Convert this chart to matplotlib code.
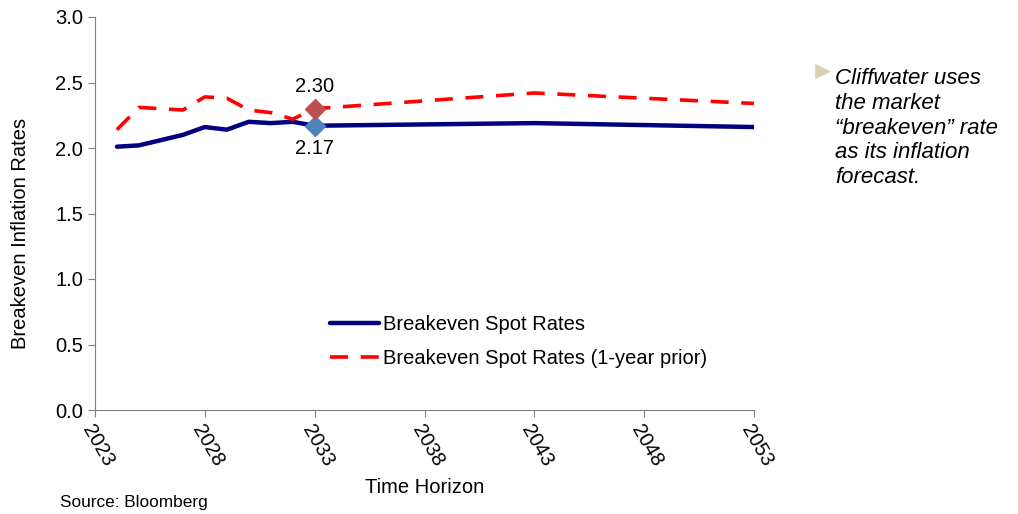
import matplotlib.pyplot as plt

plt.rcParams['font.family'] = ['Liberation Sans', 'DejaVu Sans']

years = [2024, 2025, 2026, 2027, 2028, 2029, 2030, 2031, 2032, 2033, 2043, 2053]
spot = [2.01, 2.02, 2.06, 2.10, 2.16, 2.14, 2.20, 2.19, 2.20, 2.17, 2.19, 2.16]
prior = [2.14, 2.31, 2.30, 2.29, 2.39, 2.38, 2.29, 2.27, 2.22, 2.30, 2.42, 2.34]
xticks = [2023, 2028, 2033, 2038, 2043, 2048, 2053]
yticks = [0.0, 0.5, 1.0, 1.5, 2.0, 2.5, 3.0]

fig = plt.figure(figsize=(10.18, 5.14), dpi=100)
ax = fig.add_axes([95 / 1018, 1 - 410 / 514, (754 - 95) / 1018, (410 - 17) / 514])

ax.plot(years, spot, color='#000080', lw=3.2, label='Breakeven Spot Rates', solid_capstyle='round')
ax.plot(years, prior, color='#ff0000', lw=2.6, dashes=(5, 3.5), label='Breakeven Spot Rates (1-year prior)')

ax.plot(2033, spot[9], marker='D', color='#4f81bd', ms=10, zorder=5)
ax.plot(2033, prior[9], marker='D', color='#c0504d', ms=10, zorder=5)
ax.text(2033, spot[9] - 0.1, '%.2f' % spot[9], ha='center', va='top', fontsize=14.5)
ax.text(2033, prior[9] + 0.1, '%.2f' % prior[9], ha='center', va='bottom', fontsize=14.5)

ax.set_xlim(2023, 2053)
ax.set_ylim(0, 3.0)
ax.set_xticks(xticks)
ax.set_xticklabels([str(x) for x in xticks], rotation=-60, ha='left', va='top',
                   rotation_mode='anchor', fontsize=14.5)
ax.set_yticks(yticks)
ax.set_yticklabels(['%.1f' % y for y in yticks], fontsize=14.5)
ax.tick_params(direction='out', length=5, color='#808080')
for s in ['top', 'right']:
    ax.spines[s].set_visible(False)
for s in ['left', 'bottom']:
    ax.spines[s].set_color('#808080')

ax.set_ylabel('Breakeven Inflation Rates', fontsize=14.5)
ax.yaxis.set_label_coords(-0.098, 0.45)
ax.set_xlabel('Time Horizon', fontsize=14.5, labelpad=6)

ax.legend(loc='center', bbox_to_anchor=(0.643, 0.175), frameon=False, fontsize=14.5,
          handlelength=2.4, labelspacing=0.75, handletextpad=0.2)

fig.text(60 / 1018, 1 - 502 / 514, 'Source: Bloomberg', fontsize=12.4, va='center')

fig.text(810 / 1018, 1 - 72 / 514, '\u25ba', color='#d8d2b0', fontsize=19, va='center')
fig.text(835 / 1018, 1 - 128 / 514,
         'Cliffwater uses\nthe market\n\u201cbreakeven\u201d rate\nas its inflation\nforecast.',
         fontsize=16, style='italic', va='center', linespacing=1.24)

fig.savefig('out.png', dpi=100)
